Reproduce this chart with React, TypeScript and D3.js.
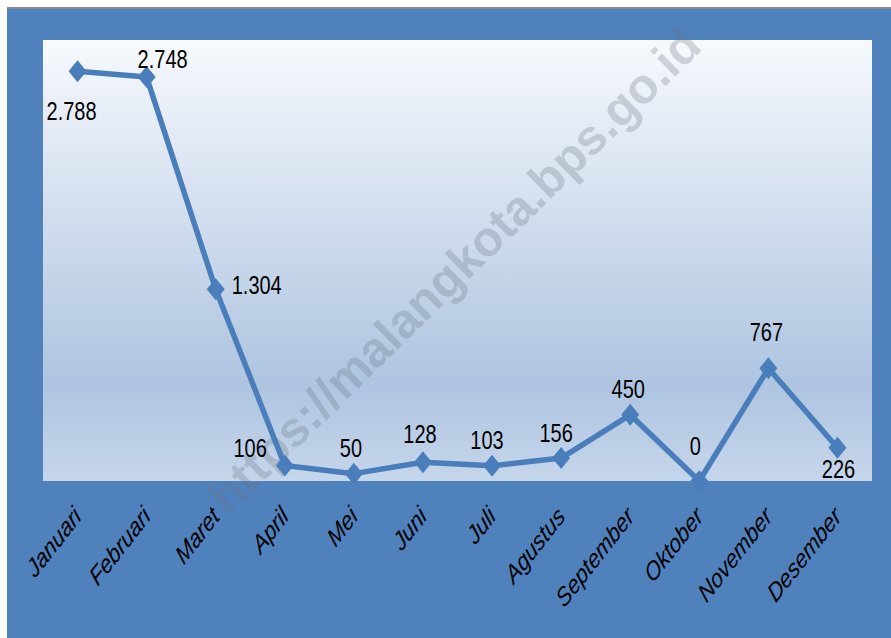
import React from "react";
import * as d3 from "d3";

const months = ["Januari","Februari","Maret","April","Mei","Juni","Juli","Agustus","September","Oktober","November","Desember"];
const values = [2788, 2748, 1304, 106, 50, 128, 103, 156, 450, 0, 767, 226];
const valueLabels = ["2.788","2.748","1.304","106","50","128","103","156","450","0","767","226"];
// label placement relative to marker: [anchor, dx, dy]
const labelPlacement: [string, number, number][] = [
  ["middle", -6, 49], ["middle", 16, -9], ["start", 16, 5], ["end", -18, -8],
  ["middle", -3, -17], ["middle", -3, -19], ["middle", -5, -17], ["middle", -5, -16],
  ["middle", -2, -17], ["middle", -4, -26], ["middle", -2, -27], ["middle", 1, 30],
];
const yDomain = [0, 3000];
const watermark = "https://malangkota.bps.go.id";

const W = 891, H = 638;
const plot = { left: 43, right: 872, top: 40, bottom: 481 };
const FONT = "'Liberation Sans', Arial, sans-serif";
const STRETCH = 1.33;
const AXIS_STRETCH = 1.28;

export default function App() {
  const x = d3.scaleBand<string>().domain(months).range([plot.left, plot.right]);
  const y = d3.scaleLinear().domain(yDomain).range([plot.bottom, plot.top]);
  const px = (i: number) => (x(months[i]) as number) + x.bandwidth() / 2;
  const line = d3.line<number>().x((_, i) => px(i)).y((v) => y(v));
  const diamond = (cx: number, cy: number) => `M${cx},${cy - 11}L${cx + 9},${cy}L${cx},${cy + 11}L${cx - 9},${cy}Z`;
  const blue = "#4f81bd";
  const lineCol = "#4a7ebb";
  return (
    <svg width={W} height={H} style={{ position: "absolute", left: 0, top: 0, display: "block" }}>
      <defs>
        <linearGradient id="pg" x1="0" y1="0" x2="0" y2="1">
          <stop offset="0" stopColor="#f7f9fd" />
          <stop offset="0.78" stopColor="#aec4e0" />
          <stop offset="1" stopColor="#c6d6eb" />
        </linearGradient>
      </defs>
      <rect x={0} y={0} width={W} height={H} fill="#ffffff" />
      <rect x={7} y={7} width={W - 7} height={2} fill="#8a8a8a" />
      <rect x={7} y={9} width={W - 7} height={H - 9} fill={blue} />
      <rect x={plot.left} y={plot.top} width={plot.right - plot.left} height={plot.bottom - plot.top} fill="url(#pg)" />
      <text
        x={0} y={0}
        transform="translate(457,273) rotate(-44.5)"
        textAnchor="middle"
        dominantBaseline="middle"
        fontFamily="'Liberation Sans', Arial, sans-serif"
        fontWeight="bold"
        fontSize={49}
        fill="rgba(105,115,130,0.28)"
      >{watermark}</text>
      <path d={line(values) || ""} fill="none" stroke={lineCol} strokeWidth={5.5} strokeLinejoin="round" />
      {values.map((v, i) => (
        <path key={"m" + i} d={diamond(px(i), y(v))} fill={lineCol} />
      ))}
      {values.map((v, i) => {
        const [anchor, dx, dy] = labelPlacement[i];
        return (
          <text key={"l" + i} transform={`translate(${px(i) + dx},${y(v) + dy}) scale(1,${STRETCH})`} textAnchor={anchor as any}
            fontFamily={FONT} fontSize={20} fill="#000">{valueLabels[i]}</text>
        );
      })}
      {months.map((m, i) => (
        <text key={"a" + i} transform={`translate(${px(i) + 5},${518}) scale(1,${AXIS_STRETCH}) rotate(-45)`} textAnchor="end"
          fontFamily={FONT} fontStyle="italic" fontSize={20.5} fill="#000">{m}</text>
      ))}
    </svg>
  );
}
